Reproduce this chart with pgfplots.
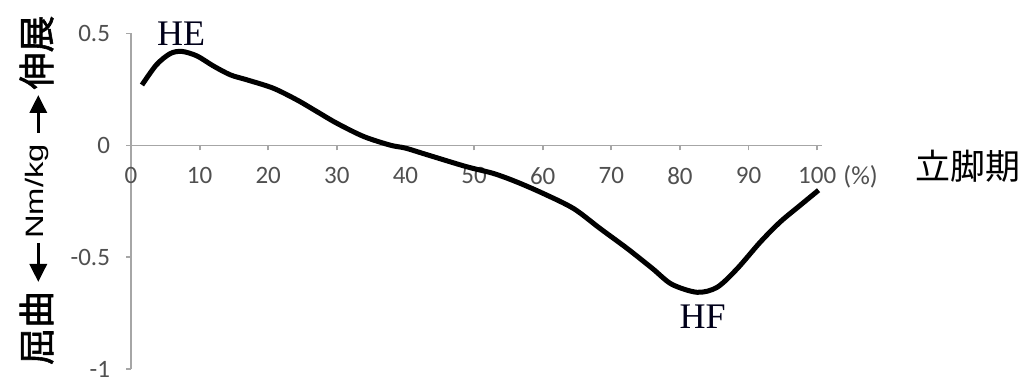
\documentclass[border=0pt]{standalone}
\usepackage{pgfplots}
\pgfplotsset{compat=1.18}
\usetikzlibrary{arrows.meta}
\usepackage{fontspec}
\setmainfont{Carlito}
\newfontfamily\cjk{Noto Sans CJK JP}
\newfontfamily\cjkb[FakeBold=1.6]{Noto Sans CJK JP}
\newfontfamily\tnr{Liberation Serif}
\newfontfamily\lsans{Liberation Sans}
\definecolor{axgray}{RGB}{166,166,166}
\definecolor{lblgray}{RGB}{80,80,80}
\begin{document}
\begin{tikzpicture}
\path[use as bounding box] (0,0) rectangle (515pt,195.5pt);
\begin{axis}[
  at={(65.5pt,10.85pt)}, anchor=south west,
  scale only axis, width=345.5pt, height=167.9pt,
  xmin=0, xmax=100.7, ymin=-1, ymax=0.5,
  axis y line=left, axis x line=middle,
  axis line style={draw=axgray, line width=0.9pt, -},
  tick style={draw=axgray, line width=0.9pt},
  tick align=outside, major tick length=2.5pt,
  xtick={0,10,...,100}, xticklabels={0,10,20,30,40,50,60,70,80,90,100},
  ytick={-1,-0.5,0,0.5}, yticklabels={-1,-0.5,0,0.5},
  ticklabel style={font=\fontsize{12.5}{14}\selectfont, text=lblgray},
  xticklabel style={yshift=-5pt},
  yticklabel style={xshift=-4.5pt},
  hide obscured x ticks=false, hide obscured y ticks=false,
  clip=false,
]
\addplot[black, line width=2.5pt, smooth, tension=0.5] coordinates {
(1.6,0.27) (3.7,0.36) (5.7,0.41) (7.4,0.42) (9.6,0.40) (12.0,0.355)
(14.5,0.315) (16.9,0.293) (20.7,0.256) (24.2,0.203) (27.1,0.151)
(30.0,0.099) (33.9,0.040) (37.8,0.001) (40.0,-0.012) (43.3,-0.043)
(48.9,-0.095) (52.8,-0.125) (56.2,-0.163) (60.1,-0.215) (64.5,-0.282)
(68.4,-0.372) (72.3,-0.46) (76.0,-0.55) (78.8,-0.62) (82.5,-0.656)
(85.4,-0.634) (88.3,-0.552) (91.7,-0.432) (94.6,-0.342) (97.5,-0.268)
(100.2,-0.2)
};
\node[anchor=base, font=\tnr\fontsize{18}{20}\selectfont, text=black!90!blue] at (axis cs:7.3,0.448) {HE};
\node[anchor=base, font=\tnr\fontsize{18}{20}\selectfont, text=black!90!blue] at (axis cs:83.3,-0.817) {HF};
\end{axis}
\node[anchor=base west, font=\fontsize{13}{15}\selectfont, text=lblgray, inner sep=0pt] at (421.5pt,103pt) {(\%)};
\node[font=\cjk\fontsize{17.5}{20}\selectfont] at (483.75pt,112.5pt) {立脚期};
\node[rotate=90, font=\cjkb\fontsize{18.5}{20}\selectfont] at (18.25pt,169.25pt) {伸展};
\node[rotate=90, font=\cjkb\fontsize{18.5}{20}\selectfont] at (18.25pt,31.5pt) {屈曲};
\node[rotate=90, anchor=base, font=\lsans\fontsize{12.6}{14}\selectfont, inner sep=0pt] at (21.65pt,99.75pt) {\scalebox{1.3}[1]{Nm/kg}};
\draw[line width=1.6pt, -{Triangle[width=8.5pt,length=9pt]}] (19.15pt,129pt) -- (19.15pt,148pt);
\draw[line width=1.6pt, -{Triangle[width=8.5pt,length=9pt]}] (19.15pt,74pt) -- (19.15pt,54.5pt);
\end{tikzpicture}
\end{document}
